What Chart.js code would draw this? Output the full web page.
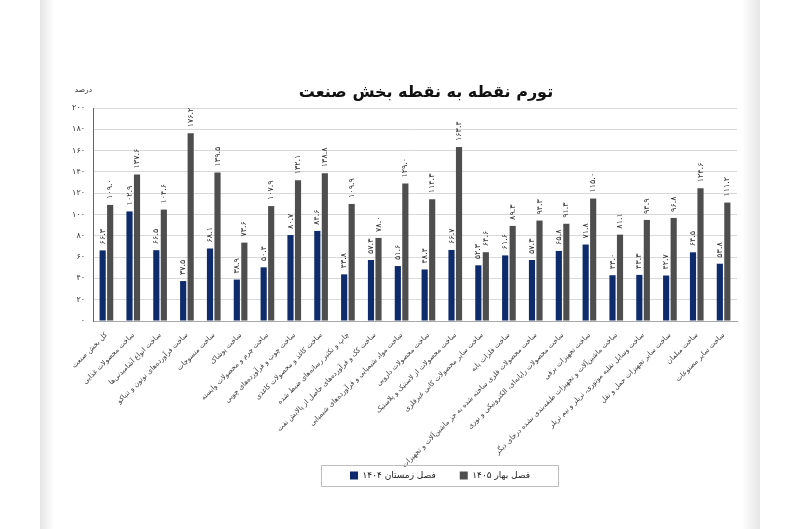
<!DOCTYPE html>
<html lang="fa">
<head>
<meta charset="utf-8">
<script src="https://cdn.jsdelivr.net/npm/chart.js@4.4.1/dist/chart.umd.min.js"></script>
<style>
  html, body { margin: 0; padding: 0; background: #fff; }
  #wrap { position: relative; width: 800px; height: 529px; overflow: hidden; }
  .edge-l { position: absolute; left: 40px; top: 0; width: 14px; height: 529px; background: linear-gradient(to right, #e4e4e4, #fff); }
  .edge-r { position: absolute; left: 742px; top: 0; width: 18px; height: 529px; background: linear-gradient(to right, #fff, #e6e6e6); }
  canvas { position: absolute; left: 0; top: 0; }
</style>
</head>
<body>
<div id="wrap">
  <div class="edge-l"></div>
  <div class="edge-r"></div>
  <canvas id="chart" width="800" height="529"></canvas>
</div>
<script>
const chartTitle = "تورم نقطه به نقطه بخش صنعت";
const unitLabel = "درصد";
const seriesNames = ["فصل زمستان ۱۴۰۴", "فصل بهار ۱۴۰۵"];

const categories = [
  "کل بخش صنعت",
  "ساخت محصولات غذایی",
  "ساخت انواع آشامیدنی‌ها",
  "ساخت فرآورده‌های توتون و تنباکو",
  "ساخت منسوجات",
  "ساخت پوشاک",
  "ساخت چرم و محصولات وابسته",
  "ساخت چوب و فرآورده‌های چوبی",
  "ساخت کاغذ و محصولات کاغذی",
  "چاپ و تکثیر رسانه‌های ضبط شده",
  "ساخت کک و فرآورده‌های حاصل از پالایش نفت",
  "ساخت مواد شیمیایی و فرآورده‌های شیمیایی",
  "ساخت محصولات دارویی",
  "ساخت محصولات از لاستیک و پلاستیک",
  "ساخت سایر محصولات کانی غیرفلزی",
  "ساخت فلزات پایه",
  "ساخت محصولات فلزی ساخته شده به جز ماشین‌آلات و تجهیزات",
  "ساخت محصولات رایانه‌ای، الکترونیکی و نوری",
  "ساخت تجهیزات برقی",
  "ساخت ماشین‌آلات و تجهیزات طبقه‌بندی نشده درجای دیگر",
  "ساخت وسایل نقلیه موتوری، تریلر و نیم تریلر",
  "ساخت سایر تجهیزات حمل و نقل",
  "ساخت مبلمان",
  "ساخت سایر مصنوعات",
];

const winter1404 = [66.3, 102.9, 66.5, 37.5, 68.1, 38.9, 50.4, 80.7, 84.6, 43.8, 57.3, 51.6,
  48.4, 66.7, 52.3, 61.6, 57.3, 65.8, 71.8, 43.0, 43.3, 42.7, 64.5, 53.8];
const spring1405 = [109.0, 137.6, 104.6, 176.2, 139.5, 73.6, 107.9, 132.1, 138.8, 109.9, 78.0, 129.0,
  114.3, 163.4, 64.6, 89.3, 94.3, 91.3, 115.0, 81.1, 94.9, 96.8, 124.6, 111.2];

const yMin = 0;
const yMax = 200;
const yStep = 20;

const FONT = "'DejaVu Sans', sans-serif";
const faDigits = "۰۱۲۳۴۵۶۷۸۹";
const toFa = (value) => String(value).replace(/\d/g, (d) => faDigits[d]);

// value labels, rotated, above each bar
const barValueLabels = {
  id: "barValueLabels",
  afterDatasetsDraw(chart) {
    const { ctx } = chart;
    ctx.save();
    ctx.font = `8px ${FONT}`;
    ctx.fillStyle = "#333";
    ctx.textAlign = "left";
    ctx.textBaseline = "middle";
    chart.data.datasets.forEach((dataset, i) => {
      chart.getDatasetMeta(i).data.forEach((bar, j) => {
        ctx.save();
        ctx.translate(bar.x, bar.y - 6);
        ctx.rotate(-Math.PI / 2);
        ctx.fillText(toFa(dataset.data[j].toFixed(1)), 0, 0);
        ctx.restore();
      });
    });
    ctx.restore();
  },
};

// title + unit text
const headerText = {
  id: "headerText",
  afterDraw(chart) {
    const { ctx, chartArea } = chart;
    ctx.save();
    ctx.fillStyle = "#111";
    ctx.font = `bold 16px ${FONT}`;
    ctx.textAlign = "center";
    ctx.textBaseline = "middle";
    ctx.fillText(chartTitle, chartArea.left + (chartArea.right - chartArea.left) / 2 + 11, 93);
    ctx.font = `7.5px ${FONT}`;
    ctx.fillStyle = "#333";
    ctx.textAlign = "right";
    ctx.fillText(unitLabel, chartArea.left - 1, 90);
    ctx.restore();
  },
};

// move legend a bit right and draw a box round it;
// also let the long category labels run past the x scale box
const legendFrame = {
  id: "legendFrame",
  afterLayout(chart) {
    const legend = chart.legend;
    const shift = 40;
    legend.left += shift;
    legend.right += shift;
    legend.legendHitBoxes.forEach((box) => { box.left += shift; });
    chart.scales.x._computeLabelArea = () => undefined;
  },
  afterDraw(chart) {
    const boxes = chart.legend.legendHitBoxes;
    if (!boxes.length) return;
    const left = Math.min(...boxes.map((b) => b.left)) - 29;
    const right = Math.max(...boxes.map((b) => b.left + b.width)) + 28;
    const top = Math.min(...boxes.map((b) => b.top)) - 6;
    const bottom = Math.max(...boxes.map((b) => b.top + b.height)) + 6;
    const { ctx } = chart;
    ctx.save();
    ctx.strokeStyle = "#bdbdbd";
    ctx.lineWidth = 1;
    ctx.strokeRect(Math.round(left) + 0.5, Math.round(top) + 0.5, Math.round(right - left), Math.round(bottom - top));
    ctx.restore();
  },
};

new Chart(document.getElementById("chart"), {
  type: "bar",
  data: {
    labels: categories,
    datasets: [
      {
        label: seriesNames[0],
        data: winter1404,
        backgroundColor: "#0e2b6c",
        barPercentage: 0.82,
        categoryPercentage: 0.56,
      },
      {
        label: seriesNames[1],
        data: spring1405,
        backgroundColor: "#4e4e4e",
        barPercentage: 0.82,
        categoryPercentage: 0.56,
      },
    ],
  },
  options: {
    responsive: false,
    animation: false,
    layout: { padding: { top: 108, left: 63, right: 63, bottom: 39 } },
    scales: {
      x: {
        grid: { display: false },
        border: { color: "#a8a8a8" },
        ticks: {
          autoSkip: false,
          minRotation: 45,
          maxRotation: 45,
          padding: 2,
          color: "#3a3a3a",
          font: { family: FONT, size: 7 },
        },
        afterFit: (scale) => { scale.height = 126; },
      },
      y: {
        min: yMin,
        max: yMax,
        grid: { color: "#d9d9d9", drawTicks: false },
        border: { color: "#666" },
        ticks: {
          stepSize: yStep,
          padding: 8,
          color: "#333",
          font: { family: FONT, size: 8 },
          callback: (value) => toFa(value),
        },
        afterFit: (scale) => { scale.width = 30; },
      },
    },
    plugins: {
      legend: {
        position: "bottom",
        labels: {
          boxWidth: 8,
          boxHeight: 8,
          padding: 24,
          color: "#222",
          font: { family: FONT, size: 9 },
        },
      },
      title: { display: false },
      tooltip: { enabled: false },
    },
  },
  plugins: [barValueLabels, headerText, legendFrame],
});
</script>
</body>
</html>
